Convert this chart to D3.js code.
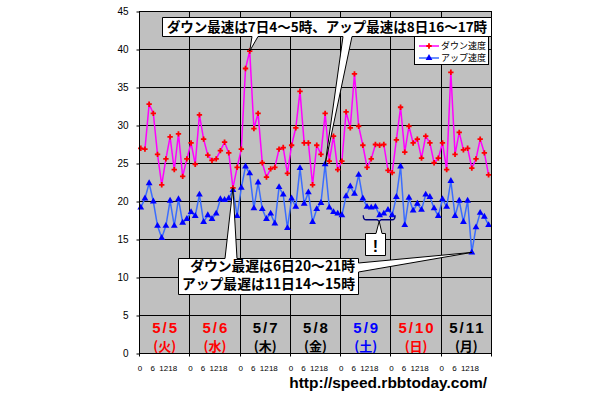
<!DOCTYPE html>
<html>
<head>
<meta charset="utf-8">
<script src="https://cdn.jsdelivr.net/npm/d3@7"></script>
<style>
body { margin: 0; background: #fff; }
svg { display: block; }
</style>
</head>
<body>
<svg width="610" height="400"></svg>
<script>
'use strict'

// Chart data
const days = ['5/5', '5/6', '5/7', '5/8', '5/9', '5/10', '5/11']
const weekdays = ['(火)', '(水)', '(木)', '(金)', '(土)', '(日)', '(月)']
const dayKinds = ['holiday', 'holiday', 'weekday', 'weekday', 'saturday', 'holiday', 'weekday']
const hourTicks = [0, 6, 12, 18]
const yTicks = [0, 5, 10, 15, 20, 25, 30, 35, 40, 45]
const seriesNames = ['ダウン速度', 'アップ速度']
// one measurement every 2 hours, 12 per day
const down = [
	27.0, 26.9, 32.8, 31.6, 26.2, 22.2, 25.6, 28.5, 24.2, 28.9, 23.3, 25.6,
	27.7, 24.9, 31.4, 28.2, 26.1, 25.4, 25.6, 26.7, 27.8, 26.4, 21.8, 24.5,
	26.9, 37.5, 39.8, 29.6, 31.6, 25.1, 23.2, 24.3, 24.5, 26.9, 27.1, 23.7,
	27.4, 29.7, 34.5, 27.7, 27.7, 22.2, 27.4, 26.2, 31.6, 25.3, 28.6, 24.2,
	25.3, 31.8, 29.7, 36.8, 29.9, 27.4, 24.5, 25.6, 27.5, 27.4, 27.5, 24.1,
	23.8, 28.1, 32.4, 26.5, 29.9, 27.7, 28.2, 25.7, 28.6, 27.7, 25.1, 25.7,
	27.7, 24.2, 37.0, 26.2, 29.1, 26.8, 27.0, 24.4, 25.6, 28.2, 26.4, 23.5,
]
const up = [
	19.2, 20.4, 22.4, 20.0, 16.8, 15.2, 16.8, 20.1, 16.8, 20.3, 17.2, 17.7,
	18.6, 18.1, 20.9, 17.3, 18.2, 17.7, 18.4, 20.3, 20.2, 20.4, 21.5, 18.1,
	21.8, 24.6, 23.7, 19.1, 22.5, 19.0, 17.7, 18.4, 17.1, 21.9, 20.9, 16.5,
	20.4, 19.3, 24.4, 19.7, 21.2, 17.3, 19.0, 19.8, 24.9, 19.2, 18.6, 18.4,
	18.2, 20.7, 22.0, 21.0, 23.5, 20.4, 19.3, 19.2, 19.3, 18.2, 18.4, 18.9,
	18.2, 20.6, 24.6, 16.9, 20.5, 18.8, 19.7, 18.9, 20.9, 20.6, 19.1, 18.1,
	20.3, 19.3, 22.7, 18.1, 20.1, 17.3, 20.1, 13.3, 16.6, 18.5, 18.0, 16.9,
]
const STEP = 2
const topNote = 'ダウン最速は7日4〜5時、アップ最速は8日16〜17時'
const bottomNote = ['ダウン最遅は6日20〜21時', 'アップ最遅は11日14〜15時']

const KIND_COLOR = {holiday: '#ff0000', saturday: '#0000ff', weekday: '#000000'}
const JP = '"Noto Sans CJK JP", sans-serif'
const LAT = '"Liberation Sans", Arial, sans-serif'

const svg = d3.select('svg')
const P = {left: 139.5, right: 491.5, top: 11.5, bottom: 353.5}
const W = P.right - P.left

const x = d3.scaleLinear().domain([0, days.length * 24]).range([P.left, P.right])
const y = d3.scaleLinear().domain([0, 45]).range([P.bottom, P.top])
const px = (d, i) => x(i * STEP + 0.6)
const crisp = (v) => Math.round(v - 0.5) + 0.5

// Plot background
svg.append('rect')
	.attr('x', P.left).attr('y', P.top).attr('width', W).attr('height', P.bottom - P.top)
	.attr('fill', '#c0c0c0')

// Gridlines
svg.append('g').selectAll('line').data(yTicks)
	.enter().append('line')
	.attr('x1', P.left).attr('x2', P.right)
	.attr('y1', (d) => crisp(y(d))).attr('y2', (d) => crisp(y(d)))
	.attr('stroke', '#000').attr('stroke-width', 1)
svg.append('g').selectAll('line').data(d3.range(days.length + 1))
	.enter().append('line')
	.attr('x1', (d) => crisp(x(d * 24))).attr('x2', (d) => crisp(x(d * 24)))
	.attr('y1', P.top).attr('y2', P.bottom + 3)
	.attr('stroke', '#000').attr('stroke-width', 1)

// Y axis labels
const yAxis = svg.append('g')
	.attr('transform', `translate(${P.left},0)`)
	.call(d3.axisLeft(y).tickValues(yTicks).tickSize(3).tickPadding(8))
yAxis.select('.domain').remove()
yAxis.selectAll('line').attr('stroke', '#000')
yAxis.selectAll('text').attr('font-family', LAT).attr('font-size', 10).attr('fill', '#000')

// X hour labels ("18" is pushed left against "12", as in the original)
const hourLabels = []
days.forEach((day, i) => {
	hourTicks.forEach((h, j) => hourLabels.push({h: i * 24 + h, t: String(h), j: j}))
})
const labelAnchor = ['middle', 'middle', 'middle', 'end']
const labelShift = [0.6, 0.6, -1, 0]
svg.append('g').selectAll('text').data(hourLabels)
	.enter().append('text')
	.attr('x', (d) => x(d.h) + labelShift[d.j])
	.attr('y', 371)
	.attr('text-anchor', (d) => labelAnchor[d.j])
	.attr('font-family', LAT).attr('font-size', 8)
	.text((d) => d.t)

// Day labels
const dayG = svg.append('g').selectAll('g').data(days)
	.enter().append('g')
	.attr('fill', (d, i) => KIND_COLOR[dayKinds[i]])
	.attr('font-weight', 'bold').attr('text-anchor', 'middle')
dayG.append('text')
	.attr('x', (d, i) => x(i * 24 + 12) + 1).attr('y', 332.5)
	.attr('font-family', LAT).attr('font-size', 15).attr('letter-spacing', 2)
	.text((d) => d)
dayG.append('text')
	.attr('x', (d, i) => x(i * 24 + 12)).attr('y', 350.5)
	.attr('font-family', JP).attr('font-size', 13)
	.text((d, i) => weekdays[i])

// Series
const line = d3.line().x(px).y((d) => y(d))
svg.append('path').datum(up)
	.attr('d', line).attr('fill', 'none').attr('stroke', '#3a6cff').attr('stroke-width', 1.5)
svg.append('path').datum(down)
	.attr('d', line).attr('fill', 'none').attr('stroke', '#ff00ff').attr('stroke-width', 1.5)
const cross = d3.symbol(d3.symbolCross, 16)
const tri = d3.symbol(d3.symbolTriangle, 20)
svg.append('g').selectAll('path').data(up)
	.enter().append('path')
	.attr('transform', (d, i) => `translate(${px(d, i)},${y(d)})`)
	.attr('d', tri).attr('fill', '#0000ff')
svg.append('g').selectAll('path').data(down)
	.enter().append('path')
	.attr('transform', (d, i) => `translate(${px(d, i)},${y(d)})`)
	.attr('d', cross).attr('fill', '#ff0000')

// Plot border
svg.append('rect')
	.attr('x', P.left).attr('y', P.top).attr('width', W).attr('height', P.bottom - P.top)
	.attr('fill', 'none').attr('stroke', '#000')

// Legend
const leg = svg.append('g')
leg.append('rect').attr('x', 414.5).attr('y', 36.5).attr('width', 74).attr('height', 28)
	.attr('fill', '#fff').attr('stroke', '#000')
const legStyle = [
	{stroke: '#ff00ff', fill: '#ff0000', sym: cross},
	{stroke: '#3a6cff', fill: '#0000ff', sym: tri},
]
seriesNames.forEach((name, i) => {
	const ly = 46 + i * 12
	leg.append('line').attr('x1', 419).attr('x2', 439).attr('y1', ly).attr('y2', ly)
		.attr('stroke', legStyle[i].stroke).attr('stroke-width', 1.5)
	leg.append('path').attr('transform', `translate(429,${ly})`)
		.attr('d', legStyle[i].sym).attr('fill', legStyle[i].fill)
	leg.append('text').attr('x', 441).attr('y', ly + 3.3)
		.attr('font-family', JP).attr('font-size', 9).text(name)
})

// Callouts
const iMax = (arr) => arr.indexOf(d3.max(arr))
const iMin = (arr) => arr.indexOf(d3.min(arr))
const pt = (arr, i) => [px(arr[i], i), y(arr[i])]
const tipDownMax = pt(down, iMax(down))
const tipUpMax = pt(up, iMax(up))
const tipDownMin = pt(down, iMin(down))
const tipUpMin = pt(up, iMin(up))

const callout = (pts) => {
	svg.append('path')
		.attr('d', 'M' + pts.map((p) => p.join(',')).join('L') + 'Z')
		.attr('fill', '#fff').attr('stroke', '#000').attr('stroke-width', 1)
		.attr('stroke-linejoin', 'miter')
}

// top box
let b = {l: 162.5, r: 491.5, t: 17.5, bt: 36.5}
callout([[b.l, b.t], [b.r, b.t], [b.r, b.bt], [352, b.bt], tipUpMax, [343, b.bt],
	[258, b.bt], tipDownMax, [252, b.bt], [b.l, b.bt]])
svg.append('text').attr('x', (b.l + b.r) / 2).attr('y', 32)
	.attr('text-anchor', 'middle').attr('font-family', JP).attr('font-size', 13.5)
	.attr('font-weight', 'bold')
	.text(topNote)

// bottom box (two lines in one text block)
b = {l: 178.5, r: 358.5, t: 258.5, bt: 294.5}
callout([[b.l, b.t], [225, b.t], tipDownMin, [237, b.t], [b.r, b.t], [b.r, 263],
	tipUpMin, [b.r, 272], [b.r, b.bt], [b.l, b.bt]])
svg.append('text').attr('y', 271)
	.attr('text-anchor', 'end').attr('font-family', JP).attr('font-size', 13.8)
	.attr('font-weight', 'bold')
	.selectAll('tspan').data(bottomNote)
	.enter().append('tspan')
	.attr('x', 355).attr('dy', (d, i) => i ? 17.5 : 0)
	.text((d) => d)

// "!" note under the flat upload stretch on 5/9
const bx0 = x(4 * 24 + 10.8), bx1 = x(4 * 24 + 26), bmid = x(4 * 24 + 18.4)
const by0 = y(18.2), by1 = y(17.6)
svg.append('path')
	.attr('d', `M${bx0},${by0} Q${bx0},${by1} ${bx0 + 3},${by1} L${bmid - 2},${by1} L${bmid},${by1 + 1.5} L${bmid + 2},${by1} L${bx1 - 3},${by1} Q${bx1},${by1} ${bx1},${by0}`)
	.attr('fill', 'none').attr('stroke', '#000080').attr('stroke-width', 1.3)
b = {l: 365.5, r: 385.5, t: 233.5, bt: 255.5}
callout([[b.l, b.t], [376, b.t], [bmid, by1 + 1.5], [382, b.t], [b.r, b.t], [b.r, b.bt], [b.l, b.bt]])
svg.append('text').attr('x', 375.5).attr('y', 251.5)
	.attr('text-anchor', 'middle').attr('font-family', LAT).attr('font-size', 16)
	.attr('font-weight', 'bold').text('!')

// Source
svg.append('text').attr('x', 487).attr('y', 387.5)
	.attr('text-anchor', 'end').attr('font-family', LAT).attr('font-size', 15.5)
	.attr('font-weight', 'bold').text('http://speed.rbbtoday.com/')
</script>
</body>
</html>
